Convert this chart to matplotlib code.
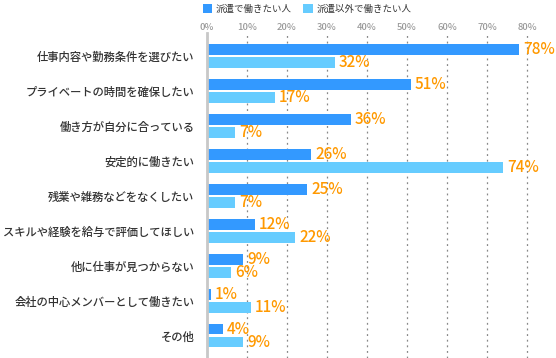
# 派遣で働きたい理由の横棒グラフ
import matplotlib.pyplot as plt
import numpy as np

plt.rcParams['font.family'] = ['Noto Sans CJK JP', 'DejaVu Sans']

# データ
categories = ['仕事内容や勤務条件を選びたい', 'プライベートの時間を確保したい', '働き方が自分に合っている',
              '安定的に働きたい', '残業や雑務などをなくしたい', 'スキルや経験を給与で評価してほしい',
              '他に仕事が見つからない', '会社の中心メンバーとして働きたい', 'その他']
haken = [78, 51, 36, 26, 25, 12, 9, 1, 4]
haken_igai = [32, 17, 7, 74, 7, 22, 6, 11, 9]
series_names = ['派遣で働きたい人', '派遣以外で働きたい人']
ticks = [0, 10, 20, 30, 40, 50, 60, 70, 80]

c_dark = '#3399ff'
c_light = '#66ccff'
c_label = '#ff9900'

fig = plt.figure(figsize=(5.56, 3.58), dpi=100)
ax = fig.add_axes([207 / 556, 0, 348 / 556, 325 / 358])

y = np.arange(len(categories))
h = 0.31
off = 0.186
b1 = ax.barh(y - off, haken, height=h, color=c_dark, label=series_names[0], zorder=3)
b2 = ax.barh(y + off, haken_igai, height=h, color=c_light, label=series_names[1], zorder=3)

for bars, vals in [(b1, haken), (b2, haken_igai)]:
    for bar, v in zip(bars, vals):
        ax.text(v + 1.0, bar.get_y() + bar.get_height() / 2, f'{v}%', color=c_label,
                fontsize=11, fontweight='medium', va='center', ha='left', clip_on=False, zorder=4)

ax.set_xlim(0, 87)
ax.set_ylim(8.643, -0.657)
ax.set_yticks(y)
ax.set_yticklabels(categories, fontsize=8.15, color='#333333', fontweight='medium')
ax.set_xticks(ticks)
ax.set_xticklabels([f'{t}%' for t in ticks], fontsize=6.8, color='#999999', fontweight='medium')
ax.xaxis.tick_top()
ax.tick_params(axis='both', length=0)
ax.tick_params(axis='x', pad=1)
ax.tick_params(axis='y', pad=9)
ax.grid(axis='x', linestyle=(0, (1.5, 3)), color='#888888', linewidth=0.9, zorder=0)

for s in ['top', 'right', 'bottom']:
    ax.spines[s].set_visible(False)
ax.spines['left'].set_color('#c8c8c8')
ax.spines['left'].set_linewidth(2)
ax.spines['left'].set_zorder(5)

fig.legend(loc='upper center', bbox_to_anchor=(307 / 556, 1.012), ncol=2, frameon=False,
           fontsize=6.8, handlelength=1.0, handleheight=1.0, handletextpad=0.4,
           columnspacing=1.2, labelcolor='#333333')

plt.savefig('out.png', dpi=100)
plt.close('all')
